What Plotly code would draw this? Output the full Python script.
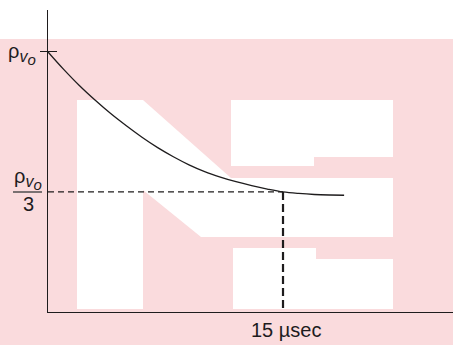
import plotly.graph_objects as go

# ---- data ----
t_us = [0, 1, 2, 3, 4, 5, 6, 7, 8, 9, 10, 11, 12, 13, 14, 15, 16, 17, 18, 18.9]
rho = [1.0, 0.933, 0.871, 0.815, 0.763, 0.716, 0.672, 0.632, 0.597, 0.566,
       0.540, 0.519, 0.501, 0.486, 0.473, 0.462, 0.456, 0.452, 0.450, 0.449]
t_mark = 15
rho_third = 0.462
rho_top = 1.0
x_max = 25.85
y_max = 1.1615
x_label = "15 µsec"
rho_label = ("ρ<sub><i><span style='font-size:16px'>v</span>"
             "<sub><span style='font-size:15px'>o</span></sub></i></sub>")

W, H = 453, 345
L, R, T, B = 48, 0, 10, 33


def px(p):
    return (p - L) / (W - L - R)


def py(p):
    return (H - B - p) / (H - T - B)


def path(pts):
    s = "M " + " L ".join(f"{px(a):.5f},{py(b):.5f}" for a, b in pts) + " Z"
    return s


INK = "#1e1c1d"
PINK = "#FADBDD"

fig = go.Figure()
fig.add_trace(go.Scatter(x=t_us, y=rho, mode="lines",
                         line=dict(color=INK, width=1.3, shape="spline"),
                         hoverinfo="skip", showlegend=False))
fig.add_trace(go.Scatter(x=[0, t_mark], y=[rho_third, rho_third], mode="lines",
                         line=dict(color=INK, width=1.3, dash="6px,4px"),
                         yaxis="y2", hoverinfo="skip", showlegend=False))
fig.add_trace(go.Scatter(x=[t_mark, t_mark], y=[rho_third, 0], mode="lines",
                         line=dict(color=INK, width=2.2, dash="8px,4px"),
                         yaxis="y2", hoverinfo="skip", showlegend=False))

shapes = [
    dict(type="rect", xref="paper", yref="paper", x0=px(0), x1=px(453),
         y0=py(345), y1=py(39), fillcolor=PINK, line=dict(width=0), layer="below"),
    dict(type="path", xref="paper", yref="paper", layer="below",
         path=path([(77, 100), (143, 100), (231, 178), (393, 178), (393, 237),
                    (201, 237), (143, 190), (143, 309), (77, 309)]),
         fillcolor="white", line=dict(width=0)),
    dict(type="path", xref="paper", yref="paper", layer="below",
         path=path([(231, 100), (393, 100), (393, 157), (314, 157), (314, 166), (231, 166)]),
         fillcolor="white", line=dict(width=0)),
    dict(type="path", xref="paper", yref="paper", layer="below",
         path=path([(233, 248), (316, 248), (316, 259), (393, 259), (393, 309), (233, 309)]),
         fillcolor="white", line=dict(width=0)),
    # fraction bar of the rho/3 label
    dict(type="line", xref="paper", yref="paper", x0=px(13), x1=px(42),
         y0=py(192), y1=py(192), line=dict(color="#5a5758", width=1.6)),
]

FONT = dict(family="Liberation Sans, Arial, sans-serif", size=20, color=INK)
annotations = [
    dict(text=rho_label, xref="paper", yref="paper", x=px(38), y=py(54),
         xanchor="right", yanchor="middle", showarrow=False, font=FONT),
    dict(text=rho_label, xref="paper", yref="paper", x=px(28), y=py(179),
         xanchor="center", yanchor="middle", showarrow=False, font=FONT),
    dict(text="3", xref="paper", yref="paper", x=px(28.5), y=py(204),
         xanchor="center", yanchor="middle", showarrow=False, font=FONT),
    dict(text=x_label, xref="paper", yref="paper", x=px(286), y=py(330),
         xanchor="center", yanchor="middle", showarrow=False, font=FONT),
]

fig.update_layout(
    width=W, height=H,
    margin=dict(l=L, r=R, t=T, b=B),
    paper_bgcolor="white", plot_bgcolor="rgba(0,0,0,0)",
    showlegend=False,
    shapes=shapes, annotations=annotations,
    xaxis=dict(range=[0, x_max], showline=True, linecolor=INK, linewidth=1.3,
               showgrid=False, zeroline=False, ticks="", showticklabels=False),
    yaxis=dict(range=[0, y_max], showline=True, linecolor=INK, linewidth=1.3,
               showgrid=False, zeroline=False, ticks="outside", ticklen=7,
               tickwidth=1.3, tickcolor=INK, tickvals=[rho_top], showticklabels=False),
    yaxis2=dict(range=[0, y_max], overlaying="y", showline=False,
                showgrid=False, zeroline=False, ticks="inside", ticklen=9,
                tickwidth=1.3, tickcolor=INK, tickvals=[rho_top], showticklabels=False),
)

fig.write_html("out.html", config={"displayModeBar": False},
               post_script="document.body.style.margin='0';document.body.style.overflow='hidden';")
